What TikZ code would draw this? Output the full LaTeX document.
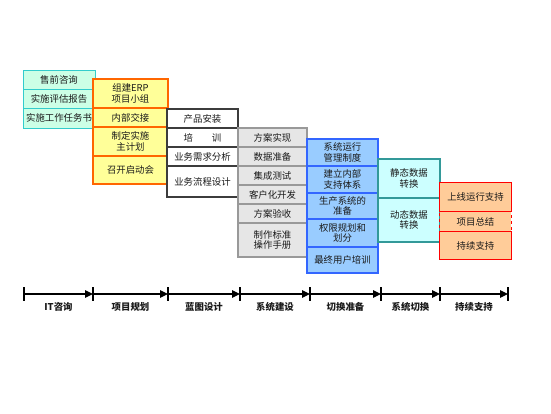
\documentclass[tikz,border=0pt]{standalone}
\usepackage{fontspec}
\newfontfamily\cjk{Noto Sans CJK SC}
\usepackage{tikz}
\usetikzlibrary{positioning,arrows.meta,calc,fit}
\definecolor{cMint}{HTML}{CCFFE6}
\definecolor{cMintLine}{HTML}{33CCCC}
\definecolor{cLemon}{HTML}{FFFF99}
\definecolor{cOrange}{HTML}{FF6600}
\definecolor{cGrey}{HTML}{E6E6E6}
\definecolor{cGreyLine}{HTML}{999999}
\definecolor{cSky}{HTML}{99CCFF}
\definecolor{cSkyLine}{HTML}{3366FF}
\definecolor{cIce}{HTML}{CCFFFF}
\definecolor{cTeal}{HTML}{339999}
\definecolor{cPeach}{HTML}{FFCC99}
\definecolor{cRed}{HTML}{FF0000}
\definecolor{cInk}{HTML}{1A1A1A}

\begin{document}
\begin{tikzpicture}[x=1pt, y=-1pt,
    font=\cjk\fontsize{9.4}{10.8}\selectfont,
    cell/.style={rectangle, inner sep=0pt, align=center, text=cInk, line width=1.1pt},
    colA/.style={cell, fill=cMint, draw=cMintLine, line width=0.9pt},
    colB/.style={cell, fill=cLemon, draw=cOrange},
    colC/.style={cell, fill=white, draw=cInk!85},
    colD/.style={cell, fill=cGrey, draw=cGreyLine},
    colE/.style={cell, fill=cSky, draw=cSkyLine},
    colF/.style={cell, fill=cIce, draw=cTeal},
    colG/.style={cell, fill=cPeach},
    phase/.style={line width=1.1pt, -{Triangle[length=8pt,width=7.5pt]}},
    phaselabel/.style={font=\cjk\bfseries\fontsize{9.4}{10.8}\selectfont, text=cInk}]
    \useasboundingbox (0,0) rectangle (551,413);

    % --- column cells: x centre / width / top / bottom / style / name / text ---
    \foreach \cx/\w/\t/\b/\s/\n/\txt in {%
        59/72/70/89/colA/a1/{售前咨询},
        59/72/89/108/colA/a2/{实施评估报告},
        59/72/108/128/colA/a3/{实施工作任务书},
        130.5/75/79/108/colB/b1/{组建ERP\\项目小组},
        130.5/75/108/127/colB/b2/{内部交接},
        130.5/75/127/156/colB/b3/{制定实施\\主计划},
        130.5/75/156/184/colB/b4/{召开启动会},
        202.5/71/109/128/colC/c1/{产品安装},
        202.5/71/128/147/colC/c2/{培\qquad 训},
        202.5/71/147/166/colC/c3/{业务需求分析},
        202.5/71/166/197/colC/c4/{业务流程设计},
        272.5/69/128/147/colD/d1/{方案实现},
        272.5/69/147/166/colD/d2/{数据准备},
        272.5/69/166/185/colD/d3/{集成测试},
        272.5/69/185/204/colD/d4/{客户化开发},
        272.5/69/204/223/colD/d5/{方案验收},
        272.5/69/223/257/colD/d6/{制作标准\\操作手册},
        342.5/71/139/166/colE/e1/{系统运行\\管理制度},
        342.5/71/166/193/colE/e2/{建立内部\\支持体系},
        342.5/71/193/219/colE/e3/{生产系统的\\准备},
        342.5/71/219/247/colE/e4/{权限规划和\\划分},
        342.5/71/247/273/colE/e5/{最终用户培训},
        409/62/159/198/colF/f1/{静态数据\\转换},
        409/62/198/242/colF/f2/{动态数据\\转换},
        475.5/71/183/211/colG/g1/{上线运行支持},
        475.5/71/211/232/colG/g2/{项目总结},
        475.5/71/232/259/colG/g3/{持续支持}}
    {
      \node[\s, minimum width=\w pt, minimum height={(\b-\t)*1pt}] (\n) at (\cx,{(\t+\b)/2}) {\txt};
    }
    % last column: dashed outline, solid frames on first and last row
    \node[draw=cRed, dashed, line width=0.8pt, inner sep=0pt, fit=(g1)(g3)] (gAll) {};
    \draw[cRed, line width=1.1pt] (g1.north west) rectangle (g1.south east);
    \draw[cRed, line width=1.1pt] (g3.north west) rectangle (g3.south east);

    % --- time line ---------------------------------------------------
    \foreach \i/\x in {0/24,1/93,2/168,3/240,4/310,5/381,6/440,7/508}{
      \coordinate (t\i) at (\x,294);
      \draw[line width=1.1pt] (\x,287) -- (\x,301);
    }
    \foreach \i/\j/\name in {0/1/{IT咨询},1/2/{项目规划},2/3/{蓝图设计},3/4/{系统建设},
        4/5/{切换准备},5/6/{系统切换},6/7/{持续支持}}
    {
      \draw[phase] (t\i) -- (t\j);
      \node[phaselabel] (p\j) at ($(t\i)!0.5!(t\j)+(0,13)$) {\name};
    }
  \end{tikzpicture}
\end{document}
